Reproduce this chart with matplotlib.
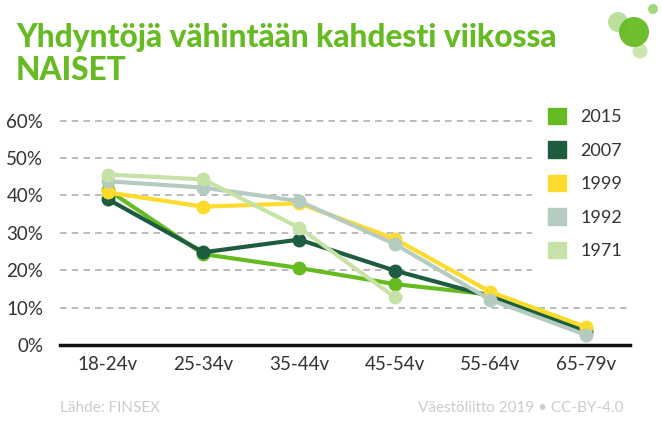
import matplotlib
matplotlib.use("Agg")
import matplotlib.pyplot as plt
from matplotlib.patches import Patch, Circle

# data (osuus naisista, %)
ikaryhmat = ["18-24v", "25-34v", "35-44v", "45-54v", "55-64v", "65-79v"]
v2015 = [41.5, 24.3, 20.6, 16.3, 13.5, 4.2]
v2007 = [39.0, 24.8, 28.2, 19.9, 13.0, 3.6]
v1999 = [40.8, 37.0, 37.9, 28.4, 14.2, 4.8]
v1992 = [43.8, 42.1, 38.5, 27.0, 12.1, 2.7]
v1971 = [45.6, 44.3, 31.4, 12.8]

sarjat = [("2015", v2015, "#66bb22"),
          ("2007", v2007, "#1e5c3f"),
          ("1999", v1999, "#fddb2d"),
          ("1992", v1992, "#b5cbbf"),
          ("1971", v1971, "#c6e2a6")]

plt.rcParams["font.family"] = ["Lato", "DejaVu Sans"]

fig = plt.figure(figsize=(6.62, 4.4), dpi=100)
ax = fig.add_axes([60 / 662, 95 / 440, 570 / 662, 243 / 440])

for nimi, arvot, vari in sarjat:
    ax.plot(range(len(arvot)), arvot, color=vari, lw=3, marker="o", ms=9,
            label=nimi, solid_capstyle="round", zorder=3)

ax.set_xlim(-0.5, 5.46)
ax.set_ylim(0, 65)
ax.set_xticks(range(len(ikaryhmat)))
ax.set_xticklabels(ikaryhmat, fontsize=13.5, color="#333333")
ax.set_yticks(range(0, 61, 10))
ax.set_yticklabels([f"{v}%" for v in range(0, 61, 10)], fontsize=13.5, color="#333333")
ax.tick_params(length=0, pad=8)
ax.tick_params(axis="y", pad=12)
# viivat jäävät selitteen vasemmalle puolelle (paitsi 10%)
for y in range(10, 61, 10):
    ax.axhline(y, xmax=1 if y == 10 else 0.828, color="#b0b0b0", lw=1.2,
               ls=(0, (4, 3)), zorder=1)
for s in ["top", "right", "left"]:
    ax.spines[s].set_visible(False)
ax.spines["bottom"].set_linewidth(2.5)
ax.spines["bottom"].set_color("#111111")
ax.spines["bottom"].set_zorder(5)

kahvat = [Patch(color=c) for _, _, c in sarjat]
ax.legend(kahvat, [n for n, _, _ in sarjat], loc="upper left",
          bbox_to_anchor=(0.83, 1.035), frameon=False, fontsize=13,
          handlelength=1.0, handleheight=1.0, handletextpad=0.8,
          labelspacing=0.9, borderpad=0.3, labelcolor="#333333")

fig.text(16 / 662, 1 - 37 / 440, "Yhdyntöjä vähintään kahdesti viikossa",
         fontsize=22.8, fontweight="black", color="#66bb22", va="center")
fig.text(16 / 662, 1 - 70 / 440, "NAISET",
         fontsize=22.8, fontweight="black", color="#66bb22", va="center")
fig.text(60 / 662, 1 - 408 / 440, "Lähde: FINSEX", fontsize=11,
         color="#cccccc", va="center")
fig.text(624 / 662, 1 - 408 / 440, "Väestöliitto 2019 • CC-BY-4.0",
         fontsize=11, color="#cccccc", va="center", ha="right")

# logo
lx = fig.add_axes([0, 0, 1, 1], zorder=10)
lx.set_xlim(0, 662)
lx.set_ylim(440, 0)
lx.axis("off")
lx.add_patch(Circle((618, 22), 10, color="#66bb22", alpha=0.45, lw=0))
lx.add_patch(Circle((634, 32), 15, color="#66bb22", alpha=0.95, lw=0))
lx.add_patch(Circle((640, 51), 7.5, color="#66bb22", alpha=0.35, lw=0))
lx.add_patch(Circle((653, 9), 5, color="#66bb22", alpha=0.6, lw=0))

fig.savefig("out.png", dpi=100)
